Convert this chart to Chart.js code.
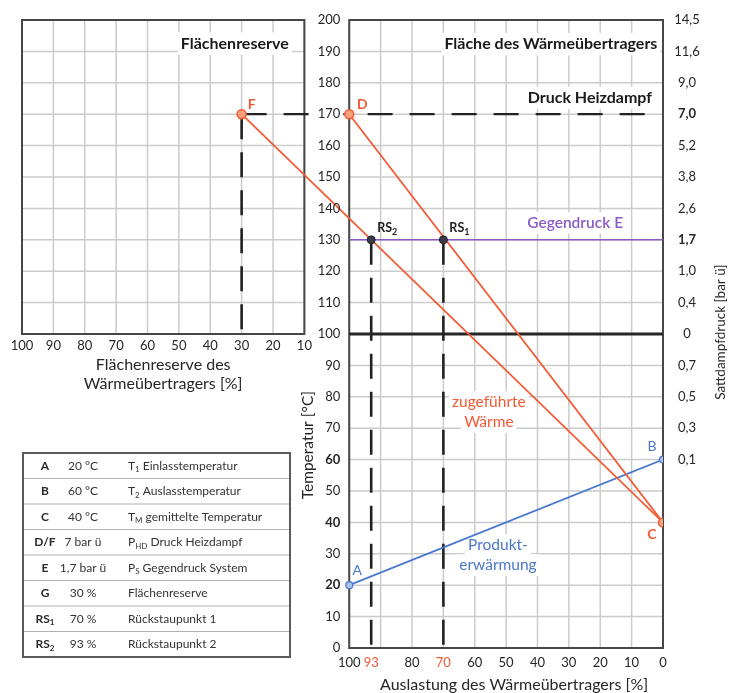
<!DOCTYPE html>
<html><head><meta charset="utf-8">
<script src="https://cdn.jsdelivr.net/npm/chart.js@4.4.1/dist/chart.umd.min.js"></script>
<style>html,body{margin:0;padding:0;background:#fff;}#wrap{width:732px;height:693px;position:relative;}</style>
</head><body><div id="wrap"><canvas id="c" width="732" height="693"></canvas></div>
<script>
// ---------- data ----------
const loadTicks = [100, 93, 80, 70, 60, 50, 40, 30, 20, 10, 0];
const loadGrid = [100, 90, 80, 70, 60, 50, 40, 30, 20, 10, 0];
const highlightLoads = [93, 70];
const reserveTicks = [100, 90, 80, 70, 60, 50, 40, 30, 20, 10];
const tempTicks = [0, 10, 20, 30, 40, 50, 60, 70, 80, 90, 100, 110, 120, 130, 140, 150, 160, 170, 180, 190, 200];
const boldTemps = [20, 40, 60];
const pressureTemps = [200, 190, 180, 170, 160, 150, 140, 130, 120, 110, 100, 90, 80, 70, 60];
const pressureLabels = ['14,5', '11,6', '9,0', '7,0', '5,2', '3,8', '2,6', '1,7', '1,0', '0,4', '0', '0,7', '0,5', '0,3', '0,1'];
const boldPressure = ['7,0', '1,7'];

const productLoad = [100, 0];      // A -> B
const productTemp = [20, 60];
const heatDLoad = [100, 0];        // D -> C
const heatDTemp = [170, 40];
const heatFReserve = 30;           // F (Flächenreserve G = 30 %)
const heatFTemp = [170, 40];       // F -> C
const counterLoad = [100, 0];      // Gegendruck E
const counterTemp = [130, 130];
const steamTemp = 170;             // Druck Heizdampf 7 bar ü
const steamEndLoad = 3;
const backupNames = ['RS_1', 'RS_2'];
const backupLoad = [70, 93];
const backupTemp = 130;

const tableSym = ['A', 'B', 'C', 'D/F', 'E', 'G', 'RS_1', 'RS_2'];
const tableVal = ['20 °C', '60 °C', '40 °C', '7 bar ü', '1,7 bar ü', '30 %', '70 %', '93 %'];
const tableDesc = ['T_1 Einlasstemperatur', 'T_2 Auslasstemperatur', 'T_M gemittelte Temperatur', 'P_HD Druck Heizdampf', 'P_S Gegendruck System', 'Flächenreserve', 'Rückstaupunkt 1', 'Rückstaupunkt 2'];

// ---------- layout helpers ----------
const GAP = 4.3;                               // gap between the two panels (x units)
const rx = r => 100 + GAP + r;                 // reserve % -> combined x value
const FONT = 'Lato, "Open Sans", sans-serif';
const ORANGE = '#F25A34', BLUE = '#4A78CC', PURPLE = '#8A5BC8', DARK = '#262626';
const GRID = '#cbcbcb', BORDER = '#474747';

const pts = (xs, ys) => xs.map((x, i) => ({x, y: ys[i]}));

function rich(ctx, s, x, y, size, weight, align, color) {
  const m = s.match(/^([^_]*)_(\S+)(.*)$/);
  const parts = m ? [[m[1], false], [m[2], true], [m[3], false]] : [[s, false]];
  const fN = `${weight} ${size}px ${FONT}`, fS = `${weight} ${Math.round(size * 0.68)}px ${FONT}`;
  let w = 0;
  parts.forEach(([t, sub]) => { ctx.font = sub ? fS : fN; w += ctx.measureText(t).width; });
  let cx = align === 'center' ? x - w / 2 : align === 'right' ? x - w : x;
  ctx.textAlign = 'left'; ctx.textBaseline = 'middle'; ctx.fillStyle = color;
  parts.forEach(([t, sub]) => { ctx.font = sub ? fS : fN; ctx.fillText(t, cx, sub ? y + size * 0.32 : y); cx += ctx.measureText(t).width; });
  return w;
}
function boxText(ctx, s, x, y, size, weight, align, color, bg) {
  ctx.font = `${weight} ${size}px ${FONT}`;
  const w = ctx.measureText(s).width;
  const left = align === 'center' ? x - w / 2 : align === 'right' ? x - w : x;
  if (bg) { ctx.fillStyle = '#fff'; ctx.fillRect(left - 3, y - size * 0.7, w + 6, size * 1.4); }
  ctx.fillStyle = color; ctx.textAlign = align; ctx.textBaseline = 'middle';
  ctx.fillText(s, x, y);
}
function line(ctx, x1, y1, x2, y2, color, w) {
  ctx.beginPath(); ctx.moveTo(x1, y1); ctx.lineTo(x2, y2);
  ctx.strokeStyle = color; ctx.lineWidth = w; ctx.stroke();
}

const decor = {
  id: 'decor',
  beforeDatasetsDraw(chart) {
    const {ctx, scales: {x, y}} = chart;
    const X = v => x.getPixelForValue(v), Y = v => y.getPixelForValue(v);
    ctx.save();
    // grid main panel
    loadGrid.forEach(v => line(ctx, X(v), Y(0), X(v), Y(200), GRID, 1.5));
    tempTicks.forEach(v => line(ctx, X(100), Y(v), X(0), Y(v), GRID, 1.5));
    // grid reserve panel
    reserveTicks.forEach(v => line(ctx, X(rx(v)), Y(100), X(rx(v)), Y(200), GRID, 1.5));
    tempTicks.filter(v => v >= 100).forEach(v => line(ctx, X(rx(100)), Y(v), X(rx(10)), Y(v), GRID, 1.5));
    // panel titles (white boxes)
    boxText(ctx, 'Flächenreserve', X(rx(15)), Y(192.5), 16, 'bold', 'right', '#1a1a1a', true);
    boxText(ctx, 'Fläche des Wärmeübertragers', X(1.8), Y(192.3), 16, 'bold', 'right', '#1a1a1a', true);
    boxText(ctx, 'Druck Heizdampf', X(3.5), Y(175.2), 16, 'bold', 'right', '#1a1a1a', true);
    boxText(ctx, 'Gegendruck E', X(28), Y(135.4), 15.5, '600', 'center', PURPLE, true);
    boxText(ctx, 'zugeführte', X(55.5), Y(78.3), 15.5, 'normal', 'center', ORANGE, true);
    boxText(ctx, 'Wärme', X(55.5), Y(72), 15.5, 'normal', 'center', ORANGE, true);
    boxText(ctx, 'Produkt-', X(52.6), Y(32.8), 15.5, 'normal', 'center', BLUE, true);
    boxText(ctx, 'erwärmung', X(52.6), Y(26.4), 15.5, 'normal', 'center', BLUE, true);
    // borders
    ctx.strokeStyle = BORDER; ctx.lineWidth = 2;
    ctx.strokeRect(X(100), Y(200), X(0) - X(100), Y(0) - Y(200));
    ctx.strokeRect(X(rx(100)), Y(200), X(rx(10)) - X(rx(100)), Y(100) - Y(200));
    line(ctx, X(100), Y(100), X(0), Y(100), '#262626', 2.8);
    ctx.restore();
  },
  afterDatasetsDraw(chart) {
    const {ctx, scales: {x, y}} = chart;
    const X = v => x.getPixelForValue(v), Y = v => y.getPixelForValue(v);
    ctx.save();
    // main temperature ticks
    tempTicks.forEach(v => boxText(ctx, String(v), X(100) - 9, Y(v), 13, boldTemps.includes(v) ? 'bold' : 'normal', 'right', DARK, v === steamTemp));
    // pressure ticks
    pressureTemps.forEach((v, i) => boxText(ctx, pressureLabels[i], X(0) + 24, Y(v), 13, boldPressure.includes(pressureLabels[i]) ? 'bold' : 'normal', 'center', DARK, false));
    // load ticks
    loadTicks.forEach(v => boxText(ctx, String(v), X(v), Y(0) + 15, 13, 'normal', 'center', highlightLoads.includes(v) ? ORANGE : DARK, false));
    // reserve ticks
    reserveTicks.forEach(v => boxText(ctx, String(v), X(rx(v)), Y(100) + 12, 13, 'normal', 'center', DARK, false));
    // axis titles
    const lc = (X(rx(100)) + X(rx(10))) / 2;
    boxText(ctx, 'Flächenreserve des', lc, Y(100) + 31, 16, 'normal', 'center', DARK, false);
    boxText(ctx, 'Wärmeübertragers [%]', lc, Y(100) + 50, 16, 'normal', 'center', DARK, false);
    boxText(ctx, 'Auslastung des Wärmeübertragers [%]', (X(100) + X(0)) / 2 + 8, Y(0) + 37, 16, 'normal', 'center', DARK, false);
    ctx.save(); ctx.translate(X(100) - 41, Y(64.6)); ctx.rotate(-Math.PI / 2);
    boxText(ctx, 'Temperatur [°C]', 0, 0, 15.5, 'normal', 'center', DARK, false); ctx.restore();
    ctx.save(); ctx.translate(X(0) + 58, Y(100.6)); ctx.rotate(-Math.PI / 2);
    boxText(ctx, 'Sattdampfdruck [bar ü]', 0, 0, 13.5, 'normal', 'center', DARK, false); ctx.restore();
    // point labels
    boxText(ctx, 'F', X(rx(heatFReserve)) + 10, Y(heatFTemp[0]) - 10, 14, 'bold', 'center', ORANGE, false);
    boxText(ctx, 'D', X(heatDLoad[0]) + 13, Y(heatDTemp[0]) - 10, 14, 'bold', 'center', ORANGE, false);
    boxText(ctx, 'C', X(heatDLoad[1]) - 11, Y(heatDTemp[1]) + 12, 14, 'bold', 'center', ORANGE, false);
    boxText(ctx, 'B', X(productLoad[1]) - 11, Y(productTemp[1]) - 13, 14, 'normal', 'center', BLUE, false);
    boxText(ctx, 'A', X(productLoad[0]) + 8, Y(productTemp[0]) - 15, 14, 'normal', 'center', BLUE, false);
    backupNames.forEach((n, i) => rich(ctx, n, X(backupLoad[i]) + 6, Y(backupTemp) - 12, 12.5, 'bold', 'left', '#222'));
    // table
    const tL = 23, tT = 453, tW = 267, rh = 25.5;
    for (let i = 1; i < tableSym.length; i++) line(ctx, tL, tT + i * rh, tL + tW, tT + i * rh, '#b0b0b0', 1.2);
    ctx.strokeStyle = '#5a5a5a'; ctx.lineWidth = 2; ctx.strokeRect(tL, tT, tW, rh * tableSym.length);
    tableSym.forEach((s, i) => {
      const cy = tT + rh * i + rh / 2;
      rich(ctx, s, 45, cy, 12, 'bold', 'center', '#2a2a2a');
      rich(ctx, tableVal[i], 83, cy, 12, 'normal', 'center', '#333');
      rich(ctx, tableDesc[i], 128, cy, 12, 'normal', 'left', '#333');
    });
    ctx.restore();
  }
};

const lineDs = (data, color, width, dash) => ({data, showLine: true, borderColor: color, borderWidth: width, borderDash: dash || [], pointRadius: 0, fill: false, tension: 0});

new Chart(document.getElementById('c'), {
  type: 'scatter',
  data: {datasets: [
    {data: [{x: rx(heatFReserve), y: heatFTemp[0]}, {x: heatDLoad[0], y: heatDTemp[0]}, {x: heatDLoad[1], y: heatDTemp[1]}],
     pointRadius: 4.5, pointBackgroundColor: '#F8A07E', pointBorderColor: ORANGE, pointBorderWidth: 1.5},
    {data: backupLoad.map(l => ({x: l, y: backupTemp})), pointRadius: 4, pointBackgroundColor: '#3b3b4b', pointBorderColor: '#222', pointBorderWidth: 1},
    {data: pts(productLoad, productTemp), pointRadius: 3.5, pointBackgroundColor: '#A9C0EC', pointBorderColor: BLUE, pointBorderWidth: 1.2},
    lineDs(pts(heatDLoad, heatDTemp), ORANGE, 1.8),
    lineDs([{x: rx(heatFReserve), y: heatFTemp[0]}, {x: heatDLoad[1], y: heatFTemp[1]}], ORANGE, 1.8),
    lineDs(pts(productLoad, productTemp), BLUE, 1.8),
    lineDs(pts(counterLoad, counterTemp), PURPLE, 1.6),
    lineDs([{x: rx(heatFReserve), y: steamTemp}, {x: steamEndLoad, y: steamTemp}], '#222', 2.2, [25, 17]),
    lineDs([{x: rx(heatFReserve), y: steamTemp}, {x: rx(heatFReserve), y: 100}], '#222', 2.6, [25, 13]),
    lineDs([{x: backupLoad[0], y: backupTemp}, {x: backupLoad[0], y: 0}], '#222', 2.6, [25, 13]),
    lineDs([{x: backupLoad[1], y: backupTemp}, {x: backupLoad[1], y: 0}], '#222', 2.6, [25, 13])
  ]},
  options: {
    responsive: false, animation: false, devicePixelRatio: 1,
    layout: {padding: {left: 22, right: 69, top: 20, bottom: 45}},
    plugins: {legend: {display: false}, tooltip: {enabled: false}},
    scales: {
      x: {type: 'linear', reverse: true, min: 0, max: rx(100), display: false},
      y: {type: 'linear', min: 0, max: 200, display: false}
    }
  },
  plugins: [decor]
});
</script></body></html>
